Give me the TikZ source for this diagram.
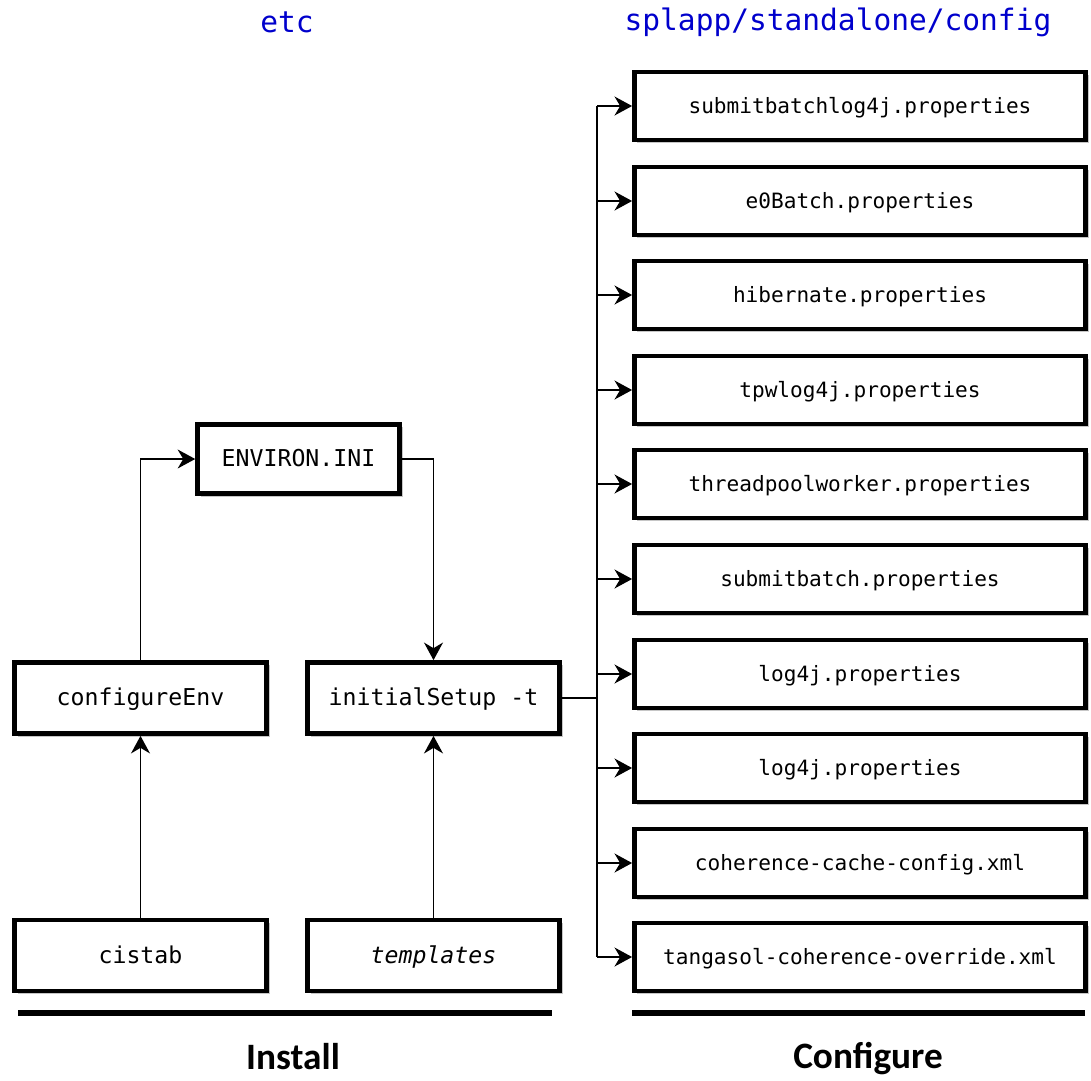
\documentclass[tikz,border=0pt]{standalone}
\usepackage{fontspec}
\usepackage{tikz}
\usepackage{xcolor}
\setmonofont{DejaVu Sans Mono}
\newfontfamily\headfont{Carlito}
\usetikzlibrary{arrows.meta,shadows}
\definecolor{dirblue}{RGB}{0,0,204}

\begin{document}
\begin{tikzpicture}[
    x=0.025cm, y=-0.025cm,
    box/.style={draw, rectangle, line width=3.2pt, fill=white, minimum width=6.3cm, minimum height=1.78cm, text centered,
        text height=13pt, text depth=2pt,
        font=\ttfamily\fontsize{16.5}{20}\selectfont,
        drop shadow={opacity=0.45, shadow xshift=2.2pt, shadow yshift=-2.2pt}},
    filebox/.style={box, minimum width=11.28cm, minimum height=1.7cm, text height=12pt, text depth=2pt,
        font=\ttfamily\fontsize{15}{18}\selectfont},
    arrow/.style={-{Stealth[length=12.5pt, width=13.5pt, inset=4pt]}, line width=1pt},
    link/.style={line width=1pt},
    bar/.style={line width=4.3pt},
    dir/.style={text=dirblue, font=\ttfamily\fontsize{21}{24}\selectfont},
    phase/.style={font=\headfont\bfseries\fontsize{26.5}{30}\selectfont}
]
\useasboundingbox (0,0) rectangle (1091,1080);

% Folder headings
\node[dir] (etc) at (287,22) {etc};
\node[dir] (splapp) at (838,22) {splapp/standalone/config};

% Install side
\node[box, minimum width=5.05cm, minimum height=1.73cm] (envini) at (298.5,459) {ENVIRON.INI};
\node[box] (cenv) at (140.5,698) {configureEnv};
\node[box] (init) at (433.5,698) {initialSetup -t};
\node[box] (cistab) at (140.5,955.5) {cistab};
\node[box] (tmpl) at (433.5,955.5) {\itshape templates};

% Configure side
\node[filebox] (f1) at (860,106) {submitbatchlog4j.properties};
\node[filebox] (f2) at (860,201) {e0Batch.properties};
\node[filebox] (f3) at (860,295) {hibernate.properties};
\node[filebox] (f4) at (860,390) {tpwlog4j.properties};
\node[filebox] (f5) at (860,484) {threadpoolworker.properties};
\node[filebox] (f6) at (860,579) {submitbatch.properties};
\node[filebox] (f7) at (860,674) {log4j.properties};
\node[filebox] (f8) at (860,768) {log4j.properties};
\node[filebox] (f9) at (860,863) {coherence-cache-config.xml};
\node[filebox] (f10) at (860,957) {tangasol-coherence-override.xml};

% Arrows on the install side
\draw[arrow] (cistab) -- (cenv);
\draw[arrow] (tmpl) -- (init);
\draw[arrow] (cenv.north) |- (envini.west);
\draw[arrow] (envini.east) -| (init.north);

% Fan out to the config files
\coordinate (trunk) at (597,698);
\draw[link] (init.east) -- (trunk);
\draw[link] (trunk |- f1) -- (trunk |- f10);
\draw[arrow] (trunk |- f1) -- (f1);
\draw[arrow] (trunk |- f2) -- (f2);
\draw[arrow] (trunk |- f3) -- (f3);
\draw[arrow] (trunk |- f4) -- (f4);
\draw[arrow] (trunk |- f5) -- (f5);
\draw[arrow] (trunk |- f6) -- (f6);
\draw[arrow] (trunk |- f7) -- (f7);
\draw[arrow] (trunk |- f8) -- (f8);
\draw[arrow] (trunk |- f9) -- (f9);
\draw[arrow] (trunk |- f10) -- (f10);

% Phase bars and labels
\draw[bar] (18,1013) -- (552,1013);
\draw[bar] (632,1013) -- (1085,1013);
\node[phase] (install) at (293,1057) {Install};
\node[phase] (configure) at (868,1059) {Configure};

\end{tikzpicture}
\end{document}
